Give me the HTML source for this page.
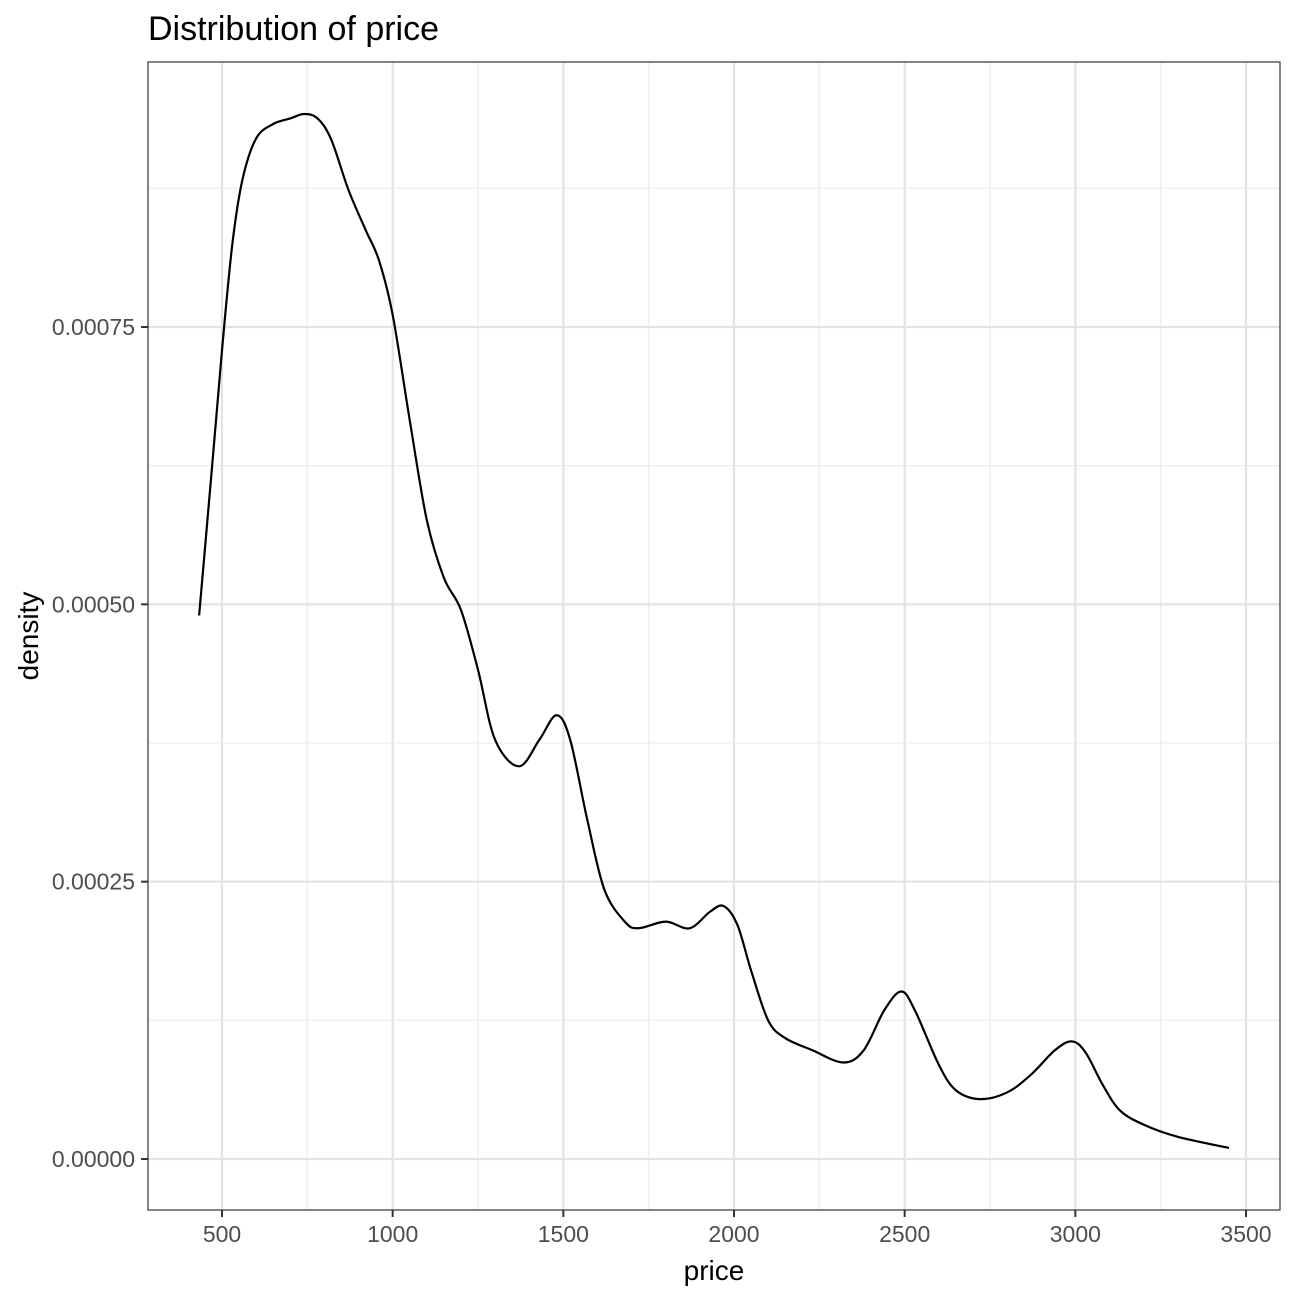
<!DOCTYPE html>
<html><head><meta charset="utf-8"><style>
body{margin:0;background:#fff;}
svg text{font-family:"Liberation Sans",Arial,sans-serif;}
</style></head><body>
<svg id="chart" width="1296" height="1296" xmlns="http://www.w3.org/2000/svg">
<rect width="1296" height="1296" fill="#fff"/>
<text x="148" y="40" font-size="34" fill="#000">Distribution of price</text>
<g id="grid"></g>
<path id="curve" fill="none" stroke="#000" stroke-width="2.2"/>
<rect x="148" y="62" width="1132" height="1148" fill="none" stroke="#333" stroke-width="1.2"/>
<g id="axes"></g>
<text x="714" y="1280" font-size="28" text-anchor="middle">price</text>
<text transform="translate(38,636) rotate(-90)" font-size="28" text-anchor="middle">density</text>
</svg>
<script>
const prices=[433,470,500,530,560,600,650,700,740,780,820,870,920,960,1000,1050,1100,1150,1200,1250,1300,1370,1430,1480,1520,1570,1620,1680,1720,1800,1870,1930,1970,2010,2050,2100,2150,2230,2320,2380,2440,2490,2530,2600,2650,2720,2800,2870,2940,2990,3030,3080,3130,3200,3300,3450];
const densities=[0.000490,0.000621,0.000729,0.000824,0.000883,0.000920,0.000933,0.000938,0.000942,0.000938,0.000919,0.000874,0.000838,0.000810,0.000761,0.000666,0.000576,0.000524,0.000495,0.000441,0.000378,0.000354,0.000378,0.000400,0.000378,0.000306,0.000243,0.000214,0.000208,0.000214,0.000208,0.000223,0.000228,0.000211,0.000170,0.000125,0.000109,0.000098,0.000087,0.000098,0.000134,0.000151,0.000134,0.000085,0.000062,0.000054,0.000060,0.000076,0.000098,0.000106,0.000096,0.000067,0.000044,0.000031,0.000020,0.000010];
const xTicks=[500,1000,1500,2000,2500,3000,3500];
const yTicks=[0,0.00025,0.0005,0.00075];
const yTickLabels=["0.00000","0.00025","0.00050","0.00075"];
const xMinor=[750,1250,1750,2250,2750,3250];
const yMinor=[0.000125,0.000375,0.000625,0.000875];

const NS="http://www.w3.org/2000/svg";
const X=v=>222+(v-500)*(1024/3000);
const Y=v=>1159-v*(277.33/0.00025);
const grid=document.getElementById('grid'),axes=document.getElementById('axes');
function line(p,x1,y1,x2,y2,c,w){const l=document.createElementNS(NS,'line');l.setAttribute('x1',x1);l.setAttribute('y1',y1);l.setAttribute('x2',x2);l.setAttribute('y2',y2);l.setAttribute('stroke',c);l.setAttribute('stroke-width',w);p.appendChild(l);return l;}
function text(p,x,y,s,a){const t=document.createElementNS(NS,'text');t.setAttribute('x',x);t.setAttribute('y',y);t.setAttribute('font-size','23');t.setAttribute('fill','#4d4d4d');t.setAttribute('text-anchor',a);t.textContent=s;p.appendChild(t);return t;}
xMinor.forEach(v=>{const l=line(grid,X(v),62,X(v),1210,'#ebebeb',1.1);

});
yMinor.forEach(v=>{const l=line(grid,148,Y(v),1280,Y(v),'#ebebeb',1.1);

});
xTicks.forEach(v=>{const l=line(grid,X(v),62,X(v),1210,'#e3e3e3',2.2);


const t=line(axes,X(v),1210,X(v),1217,'#333',2);


const tx=text(axes,X(v),1242,String(v),'middle');

});
yTicks.forEach((v,i)=>{const l=line(grid,148,Y(v),1280,Y(v),'#e3e3e3',2.2);


const t=line(axes,141,Y(v),148,Y(v),'#333',2);


const tx=text(axes,135,Y(v)+8,yTickLabels[i],'end');

});
const pts=prices.map((p,i)=>[X(p),Y(densities[i])]);
let d='M'+pts[0][0]+','+pts[0][1];
for(let i=0;i<pts.length-1;i++){const p0=pts[Math.max(0,i-1)],p1=pts[i],p2=pts[i+1],p3=pts[Math.min(pts.length-1,i+2)];
d+=` C${p1[0]+(p2[0]-p0[0])/6},${p1[1]+(p2[1]-p0[1])/6} ${p2[0]-(p3[0]-p1[0])/6},${p2[1]-(p3[1]-p1[1])/6} ${p2[0]},${p2[1]}`;}
document.getElementById('curve').setAttribute('d',d);
</script>
</body></html>
